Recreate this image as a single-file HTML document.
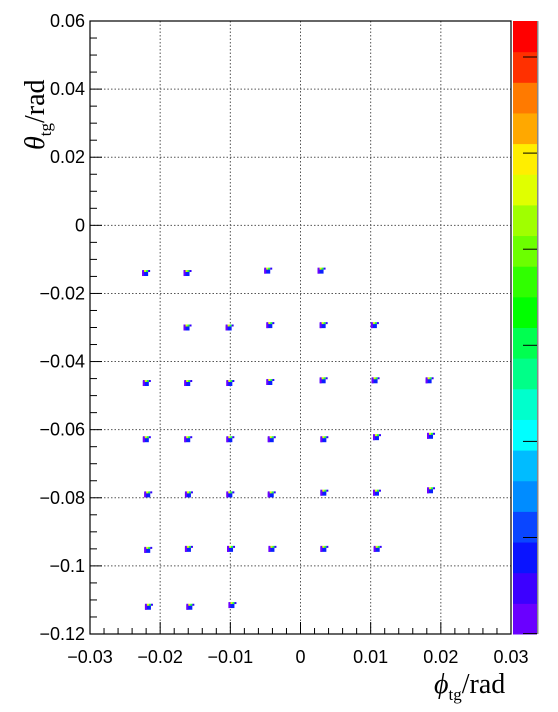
<!DOCTYPE html>
<html><head><meta charset="utf-8"><style>
html,body{margin:0;padding:0;background:#fff;}
svg{display:block;font-family:"Liberation Sans",sans-serif;}
</style></head><body>
<svg id="chart" width="558" height="712" viewBox="0 0 558 712">
<g id="grid"></g>
<g id="marks"></g>
<g id="axes"></g>
<g id="cbar"></g>
<text transform="translate(44,150) rotate(-90)" font-family="Liberation Serif,serif" font-size="28"><tspan font-style="italic">θ</tspan><tspan font-size="17" dy="7">tg</tspan><tspan dy="-7">/rad</tspan></text>
<text x="434" y="693" font-family="Liberation Serif,serif" font-size="28"><tspan font-style="italic">ϕ</tspan><tspan font-size="17" dy="7">tg</tspan><tspan dy="-7">/rad</tspan></text>
</svg>
<script>
const xTicks=[-0.03,-0.02,-0.01,0,0.01,0.02,0.03];
const xTickLabels=["−0.03","−0.02","−0.01","0","0.01","0.02","0.03"];
const yTicks=[-0.12,-0.1,-0.08,-0.06,-0.04,-0.02,0,0.02,0.04,0.06];
const yTickLabels=["−0.12","−0.1","−0.08","−0.06","−0.04","−0.02","0","0.02","0.04","0.06"];
const spotPhi=[-0.0220,-0.0161,-0.0046,0.0030,
 -0.0161,-0.0101,-0.0043,0.0033,0.0106,
 -0.0219,-0.0160,-0.0100,-0.0043,0.0033,0.0107,0.0184,
 -0.0219,-0.0160,-0.0100,-0.0041,0.0034,0.0109,0.0186,
 -0.0217,-0.0159,-0.0100,-0.0041,0.0034,0.0109,0.0186,
 -0.0217,-0.0159,-0.0099,-0.0040,0.0034,0.0110,
 -0.0216,-0.0157,-0.0097];
const spotTheta=[-0.0140,-0.0140,-0.0133,-0.0133,
 -0.0300,-0.0300,-0.0293,-0.0293,-0.0293,
 -0.0463,-0.0463,-0.0463,-0.0460,-0.0455,-0.0455,-0.0455,
 -0.0628,-0.0628,-0.0628,-0.0628,-0.0628,-0.0622,-0.0618,
 -0.0790,-0.0790,-0.0790,-0.0790,-0.0785,-0.0785,-0.0778,
 -0.0953,-0.0950,-0.0950,-0.0950,-0.0950,-0.0950,
 -0.1120,-0.1120,-0.1115];
const cbarColors=["#6a00ff","#3c00ff","#0a14ff","#0a46ff","#008cff","#00bcff","#00ffff","#00ffcc","#00ff88","#00ff50","#00ff00","#30ff00","#6cff00","#a0ff00","#e0ff00","#ffee00","#ffa800","#ff7a00","#ff3000","#ff0000"];
const L=90,R=511,T=21,B=634;
const xS=v=>L+(v+0.03)/0.06*(R-L);
const yS=v=>B-(v+0.12)/0.18*(B-T);
const NS="http://www.w3.org/2000/svg";
function mk(tag,parent,attrs){const e=document.createElementNS(NS,tag);for(const k in attrs)e.setAttribute(k,attrs[k]);parent.appendChild(e);return e;}
const grid=document.getElementById('grid'),axes=document.getElementById('axes'),marks=document.getElementById('marks'),cbar=document.getElementById('cbar');
xTicks.forEach((t,i)=>{const x=xS(t);
 if(i>0&&i<xTicks.length-1){const g=mk('line',grid,{x1:x,x2:x,y1:T,y2:B,stroke:'#555','stroke-dasharray':'1.5,2','stroke-width':1});
 }
 const tl=mk('line',axes,{x1:x,x2:x,y1:B,y2:B-12,stroke:'#000','stroke-width':1});
 
 const tx=mk('text',axes,{x:x,y:663,'text-anchor':'middle','font-size':18});tx.textContent=xTickLabels[i];
 
 if(i<xTicks.length-1)for(let k=1;k<5;k++){const xm=xS(t+k*0.002);mk('line',axes,{x1:xm,x2:xm,y1:B,y2:B-6,stroke:'#000','stroke-width':1});}
});
yTicks.forEach((t,i)=>{const y=yS(t);
 if(i>0&&i<yTicks.length-1){const g=mk('line',grid,{x1:L,x2:R,y1:y,y2:y,stroke:'#555','stroke-dasharray':'1.5,2','stroke-width':1});
 }
 const tl=mk('line',axes,{x1:L,x2:L+12,y1:y,y2:y,stroke:'#000','stroke-width':1});
 
 const tx=mk('text',axes,{x:85,y:y+6,'text-anchor':'end','font-size':18});tx.textContent=yTickLabels[i];
 
 if(i<yTicks.length-1)for(let k=1;k<4;k++){const ym=yS(t+k*0.005);mk('line',axes,{x1:L,x2:L+7,y1:ym,y2:ym,stroke:'#000','stroke-width':1});}
});
const fr=mk('rect',axes,{x:L,y:T,width:R-L,height:B-T,fill:'none',stroke:'#000','stroke-width':1.2});

spotPhi.forEach((p,i)=>{const cx=xS(p),cy=yS(spotTheta[i]);
 const g=mk('g',marks,{});
 
 mk('rect',g,{x:cx-4,y:cy-2,width:6,height:5,fill:'#0a20ff'});
 mk('rect',g,{x:cx-4,y:cy-3,width:2,height:6,fill:'#7000ff'});
 mk('rect',g,{x:cx-2,y:cy-3,width:2,height:2,fill:'#e0ff00'});
 mk('rect',g,{x:cx,y:cy-3,width:2,height:2,fill:'#20ff40'});
 mk('rect',g,{x:cx+2,y:cy-3,width:2,height:2,fill:'#3000ff'});
});
const bh=(B-T)/cbarColors.length;
cbarColors.forEach((c,i)=>{const r=mk('rect',cbar,{x:513,y:B-(i+1)*bh,width:24,height:bh+0.5,fill:c});
 });
mk('rect',cbar,{x:537,y:T,width:1.5,height:B-T,fill:'#888'});
for(let k=0;k<7;k++){const y=57+k*96.1;mk('line',cbar,{x1:523,x2:537,y1:y,y2:y,stroke:'#000','stroke-width':1});}
</script>
</body></html>
